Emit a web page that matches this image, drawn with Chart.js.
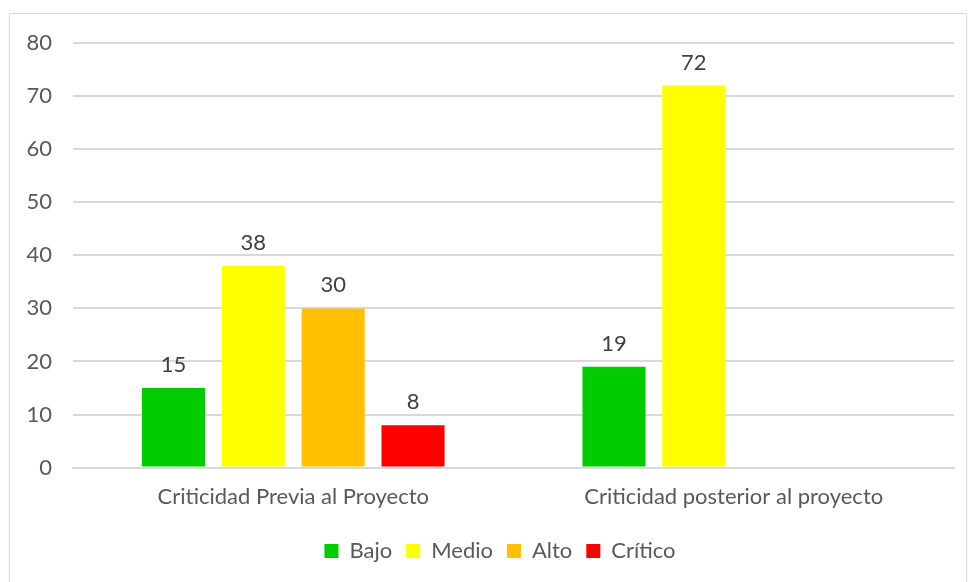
<!DOCTYPE html>
<html>
<head>
<meta charset="utf-8">
<script src="https://cdn.jsdelivr.net/npm/chart.js@4"></script>
<style>
  body { margin: 0; background: #fff; }
  #frame { position: absolute; left: 9px; top: 13px; width: 956px; height: 580px; border: 1px solid #d9d9d9; }
  #wrap { position: absolute; left: 0; top: 0; width: 968px; height: 582px; }
</style>
</head>
<body>
<div id="frame"></div>
<div id="wrap"><canvas id="chart"></canvas></div>
<script>
const categories = ['Criticidad Previa al Proyecto', 'Criticidad posterior al proyecto'];
const bajo = [15, 19];
const medio = [38, 72];
const alto = [30, null];
const critico = [8, null];
const yTicks = [0, 10, 20, 30, 40, 50, 60, 70, 80];

const fontFamily = 'Lato, "Open Sans", sans-serif';

// draws the value above each bar
const valueLabels = {
    id: 'valueLabels',
    afterDatasetsDraw(chart) {
        const ctx = chart.ctx;
        ctx.save();
        ctx.font = '22px ' + fontFamily;
        ctx.fillStyle = '#404040';
        ctx.textAlign = 'center';
        ctx.textBaseline = 'bottom';
        chart.data.datasets.forEach((ds, i) => {
            chart.getDatasetMeta(i).data.forEach((bar, j) => {
                const v = ds.data[j];
                if (v === null || v === undefined) return;
                ctx.fillText(String(v), bar.x, bar.y - 12);
            });
        });
        ctx.restore();
    }
};

// nudge the legend a bit to the right, like the original
const legendShift = {
    id: 'legendShift',
    afterLayout(chart) {
        if (chart.legend) {
            chart.legend.left += 13;
            chart.legend.right += 13;
        }
    }
};

function dataset(label, data, color) {
    return {
        label: label,
        data: data,
        backgroundColor: color,
        borderWidth: 0,
        categoryPercentage: 0.725,
        barPercentage: 0.79
    };
}

new Chart(document.getElementById('chart'), {
    type: 'bar',
    data: {
        labels: categories,
        datasets: [
            dataset('Bajo', bajo, '#00cc00'),
            dataset('Medio', medio, '#ffff00'),
            dataset('Alto', alto, '#ffc000'),
            dataset('Crítico', critico, '#ff0000')
        ]
    },
    options: {
        responsive: true,
        maintainAspectRatio: false,
        animation: false,
        layout: { padding: { left: 20, right: 14, top: 43, bottom: 10 } },
        plugins: {
            legend: {
                position: 'bottom',
                labels: {
                    boxWidth: 14,
                    boxHeight: 14,
                    padding: 14,
                    color: '#595959',
                    font: { family: fontFamily, size: 22 }
                }
            },
            tooltip: { enabled: false }
        },
        scales: {
            x: {
                grid: { display: false, drawTicks: false },
                border: { color: '#d9d9d9', width: 2 },
                ticks: { color: '#595959', padding: 16, font: { family: fontFamily, size: 22 } }
            },
            y: {
                min: 0,
                max: 80,
                afterBuildTicks: axis => { axis.ticks = yTicks.map(v => ({ value: v })); },
                afterFit: axis => { axis.width = 53; },
                grid: { color: '#d9d9d9', lineWidth: 2, drawTicks: false },
                border: { display: false },
                ticks: { color: '#595959', padding: 21, font: { family: fontFamily, size: 22 } }
            }
        }
    },
    plugins: [valueLabels, legendShift]
});
</script>
</body>
</html>
